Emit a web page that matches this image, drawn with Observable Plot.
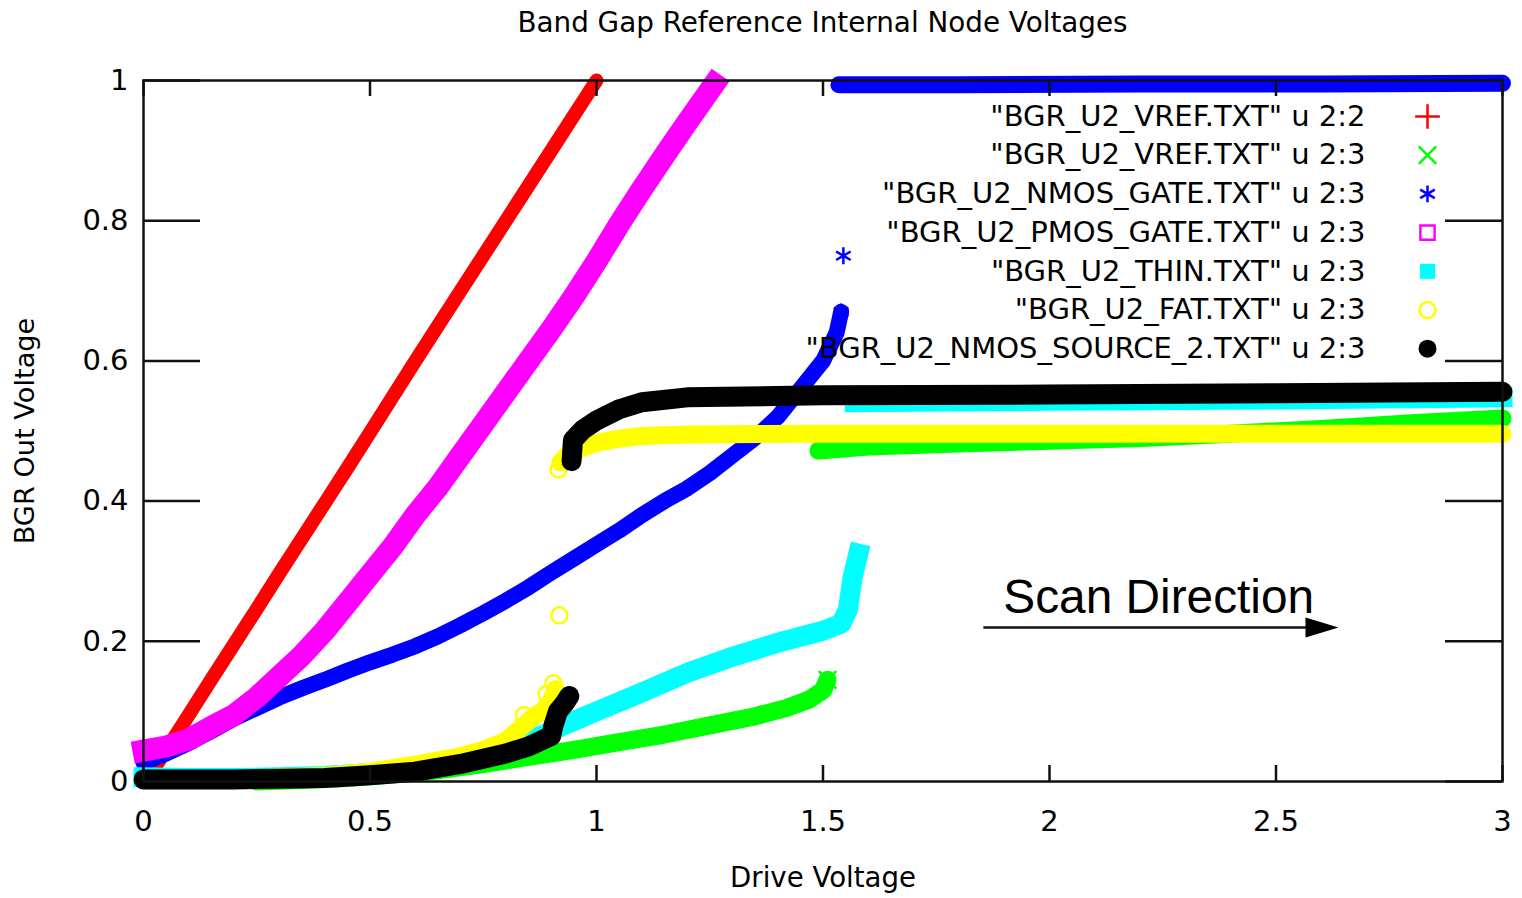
<!DOCTYPE html>
<html><head><meta charset="utf-8">
<script src="https://cdn.jsdelivr.net/npm/d3@7"></script>
<script src="https://cdn.jsdelivr.net/npm/@observablehq/plot@0.6"></script>
<style>
html,body{margin:0;padding:0;background:#fff;}
#title{width:1522px;height:45px;line-height:45px;font-family:"DejaVu Sans";font-size:27.8px;color:#000;text-align:center;padding-left:143px;padding-right:20px;box-sizing:border-box;}
#chart svg{display:block;}
</style></head><body>
<div id="title">Band Gap Reference Internal Node Voltages</div>
<div id="chart"></div>
<script>
// ---- axis ticks ----
const xTicks = [0, 0.5, 1, 1.5, 2, 2.5, 3];
const xTickLabels = ["0", "0.5", "1", "1.5", "2", "2.5", "3"];
const yTicks = [0, 0.2, 0.4, 0.6, 0.8, 1];
const yTickLabels = ["0", "0.2", "0.4", "0.6", "0.8", "1"];

// ---- legend ----
const seriesNames = [
  "\"BGR_U2_VREF.TXT\" u 2:2",
  "\"BGR_U2_VREF.TXT\" u 2:3",
  "\"BGR_U2_NMOS_GATE.TXT\" u 2:3",
  "\"BGR_U2_PMOS_GATE.TXT\" u 2:3",
  "\"BGR_U2_THIN.TXT\" u 2:3",
  "\"BGR_U2_FAT.TXT\" u 2:3",
  "\"BGR_U2_NMOS_SOURCE_2.TXT\" u 2:3"
];
const seriesColors = ["#ff0000", "#00ff00", "#0000ff", "#ff00ff", "#00ffff", "#ffff00", "#000000"];

// ---- series values [drive voltage, node voltage] ----
const vrefOut = [[0.01,0.005],[0.05,0.045],[0.1,0.095],[0.15,0.146],[0.2,0.196],[0.25,0.246],[0.3,0.297],[0.35,0.347],[0.4,0.397],[0.45,0.447],[0.5,0.498],[0.55,0.549],[0.6,0.6],[0.65,0.65],[0.7,0.7],[0.75,0.75],[0.8,0.8],[0.85,0.85],[0.9,0.9],[0.95,0.95],[1.0,1.0]];

const vrefNodeLow = [[0.25,0.0],[0.35,0.002],[0.45,0.005],[0.55,0.01],[0.65,0.016],[0.75,0.025],[0.85,0.035],[0.95,0.045],[1.05,0.056],[1.15,0.067],[1.25,0.08],[1.35,0.093],[1.42,0.105],[1.47,0.117],[1.5,0.13],[1.51,0.145]];
const vrefNodeHigh = [[1.49,0.472],[1.6,0.478],[1.8,0.482],[2.0,0.486],[2.2,0.49],[2.4,0.496],[2.6,0.503],[2.8,0.511],[3.0,0.518]];

const nmosGateRise = [[0,0.027],[0.05,0.04],[0.1,0.055],[0.15,0.072],[0.2,0.09],[0.25,0.105],[0.3,0.12],[0.35,0.133],[0.4,0.145],[0.45,0.158],[0.5,0.17],[0.55,0.181],[0.6,0.193],[0.65,0.207],[0.7,0.223],[0.75,0.24],[0.8,0.258],[0.85,0.277],[0.9,0.298],[0.95,0.318],[1.0,0.338],[1.05,0.358],[1.1,0.38],[1.15,0.4],[1.2,0.418],[1.25,0.44],[1.3,0.465],[1.35,0.49],[1.4,0.52],[1.45,0.56],[1.5,0.6],[1.53,0.64],[1.54,0.67]];
const nmosGateOutlier = [[1.545,0.75]];
const nmosGateTop = [[1.535,0.994],[1.8,0.994],[2.2,0.995],[2.6,0.995],[3.0,0.996]];

const pmosGate = [[0,0.044],[0.05,0.05],[0.1,0.06],[0.15,0.078],[0.2,0.095],[0.25,0.12],[0.3,0.15],[0.35,0.18],[0.4,0.215],[0.45,0.255],[0.5,0.295],[0.55,0.335],[0.6,0.38],[0.65,0.42],[0.7,0.465],[0.75,0.51],[0.8,0.555],[0.85,0.6],[0.9,0.645],[0.95,0.692],[1.0,0.742],[1.05,0.795],[1.1,0.845],[1.15,0.893],[1.2,0.94],[1.26,0.995]];

const thinLow = [[0,0.006],[0.1,0.005],[0.2,0.005],[0.3,0.006],[0.4,0.008],[0.5,0.012],[0.6,0.02],[0.7,0.032],[0.8,0.048],[0.88,0.066],[0.92,0.078],[1.0,0.1],[1.1,0.127],[1.2,0.155],[1.3,0.178],[1.4,0.198],[1.5,0.215],[1.54,0.225],[1.555,0.245],[1.565,0.29],[1.578,0.325]];
const thinHigh = [[1.57,0.541],[2.0,0.543],[2.5,0.545],[3.0,0.548]];

const fatLow = [[0,0.002],[0.2,0.003],[0.4,0.008],[0.5,0.014],[0.6,0.024],[0.7,0.036],[0.75,0.045],[0.8,0.058],[0.83,0.075],[0.86,0.092],[0.88,0.1],[0.9,0.115],[0.91,0.132]];
const fatOutliers = [[0.918,0.237],[0.916,0.445],[0.905,0.14],[0.89,0.125],[0.84,0.095]];
const fatHigh = [[0.92,0.455],[0.935,0.465],[0.96,0.474],[1.0,0.483],[1.05,0.489],[1.1,0.493],[1.2,0.495],[1.5,0.496],[2.0,0.496],[2.5,0.496],[3.0,0.496]];

const sourceLow = [[0,0.003],[0.1,0.003],[0.2,0.003],[0.3,0.004],[0.4,0.005],[0.5,0.009],[0.6,0.014],[0.7,0.025],[0.8,0.04],[0.85,0.05],[0.9,0.065],[0.905,0.08],[0.915,0.1],[0.93,0.112],[0.94,0.122]];
const sourceHigh = [[0.945,0.457],[0.948,0.487],[0.97,0.502],[1.0,0.515],[1.05,0.531],[1.1,0.541],[1.2,0.548],[1.5,0.551],[2.0,0.552],[2.5,0.554],[3.0,0.556]];

// ---- annotation ----
const scanLabel = [{x: 1.898, y: 0.2397, text: "Scan Direction"}];
const scanArrow = [{x1: 1.854, x2: 2.61, y: 0.2197, tip: 2.638}];

// ---- styles ----
const bandWidth = [14, 18, 16, 22, 20, 18, 20];
const bandCap = ["round", "round", "round", "square", "square", "round", "round"];
const arrowHead = {draw(ctx) { ctx.moveTo(0, 0); ctx.lineTo(-33, -10); ctx.lineTo(-33, 10); ctx.closePath(); }};

function band(data, i, w) {
  return Plot.line(data, {stroke: seriesColors[i], strokeWidth: w ?? bandWidth[i], strokeLinecap: bandCap[i], strokeLinejoin: "round"});
}
const markerStyle = [
  {symbol: "plus", r: 8, stroke: seriesColors[0], strokeWidth: 2.5, fill: "none"},
  {symbol: "times", r: 8, stroke: seriesColors[1], strokeWidth: 2.5, fill: "none"},
  {symbol: "asterisk", r: 8, stroke: seriesColors[2], strokeWidth: 2.5, fill: "none"},
  {symbol: "square", r: 8, stroke: seriesColors[3], strokeWidth: 2.5, fill: "none"},
  {symbol: "square", r: 8.5, fill: seriesColors[4], stroke: "none"},
  {symbol: "circle", r: 8, stroke: seriesColors[5], strokeWidth: 2.5, fill: "none"},
  {symbol: "circle", r: 9, fill: seriesColors[6], stroke: "none"}
];
function marks(data, i) { return Plot.dot(data, {...markerStyle[i]}); }

const legendMarks = [];
seriesNames.forEach((name, i) => {
  const dy = 36 + i * 38.7;
  legendMarks.push(Plot.text([name], {frameAnchor: "top-right", dx: -137, dy, textAnchor: "end", lineAnchor: "middle", fontSize: 29, fill: "#000"}));
  legendMarks.push(Plot.dot([0], {frameAnchor: "top-right", dx: -75, dy, ...markerStyle[i]}));
});

const ticksLenX = 16 / 701, ticksLenY = 19 / 453;

const chart = Plot.plot({
  width: 1522, height: 853,
  marginLeft: 143, marginRight: 20, marginTop: 35, marginBottom: 117,
  x: {domain: [0, 3]},
  y: {domain: [0, 1]},
  style: {fontFamily: "DejaVu Sans", fontSize: "29px", color: "#000", background: "#fff", overflow: "visible"},
  marks: [
    band(vrefOut, 0),
    band(vrefNodeLow, 1), band(vrefNodeHigh, 1), marks([vrefNodeLow[vrefNodeLow.length - 1]], 1),
    band(nmosGateRise, 2), marks([nmosGateRise[nmosGateRise.length - 1]], 2), marks(nmosGateOutlier, 2), band(nmosGateTop, 2, 17),
    band(pmosGate, 3),
    band(thinLow, 4), band(thinHigh, 4),
    band(fatLow, 5), marks(fatOutliers, 5), band(fatHigh, 5),
    band(sourceLow, 6), band(sourceHigh, 6),
    Plot.frame({stroke: "#111", strokeWidth: 2.5}),
    Plot.ruleX(xTicks, {y1: 0, y2: ticksLenX, stroke: "#111", strokeWidth: 2.5}),
    Plot.ruleX(xTicks, {y1: 1, y2: 1 - ticksLenX, stroke: "#111", strokeWidth: 2.5}),
    Plot.ruleY(yTicks, {x1: 0, x2: 3 * ticksLenY, stroke: "#111", strokeWidth: 2.5}),
    Plot.ruleY(yTicks, {x1: 3, x2: 3 - 3 * ticksLenY, stroke: "#111", strokeWidth: 2.5}),
    Plot.axisX(xTicks, {tickSize: 0, tickPadding: 29, tickFormat: d => xTickLabels[xTicks.indexOf(d)], label: null, fontSize: 29}),
    Plot.axisY(yTicks, {tickSize: 0, tickPadding: 15, tickFormat: d => yTickLabels[yTicks.indexOf(d)], label: null, fontSize: 29}),
    Plot.text(["Drive Voltage"], {frameAnchor: "bottom", dy: 97, textAnchor: "middle", lineAnchor: "middle", fontSize: 27.6}),
    Plot.text(["BGR Out Voltage"], {frameAnchor: "left", dx: -118, rotate: -90, textAnchor: "middle", lineAnchor: "middle", fontSize: 27.2}),
    ...legendMarks,
    Plot.link(scanArrow, {x1: "x1", x2: "x2", y1: "y", y2: "y", stroke: "#111", strokeWidth: 2.5}),
    Plot.dot(scanArrow, {x: "tip", y: "y", symbol: arrowHead, r: 10, fill: "#000", stroke: "none"}),
    Plot.text(scanLabel, {x: "x", y: "y", text: "text", textAnchor: "start", lineAnchor: "bottom", fontFamily: "Liberation Sans", fontSize: 47.8, fill: "#000"})
  ]
});
document.getElementById("chart").appendChild(chart);
</script>
</body></html>
